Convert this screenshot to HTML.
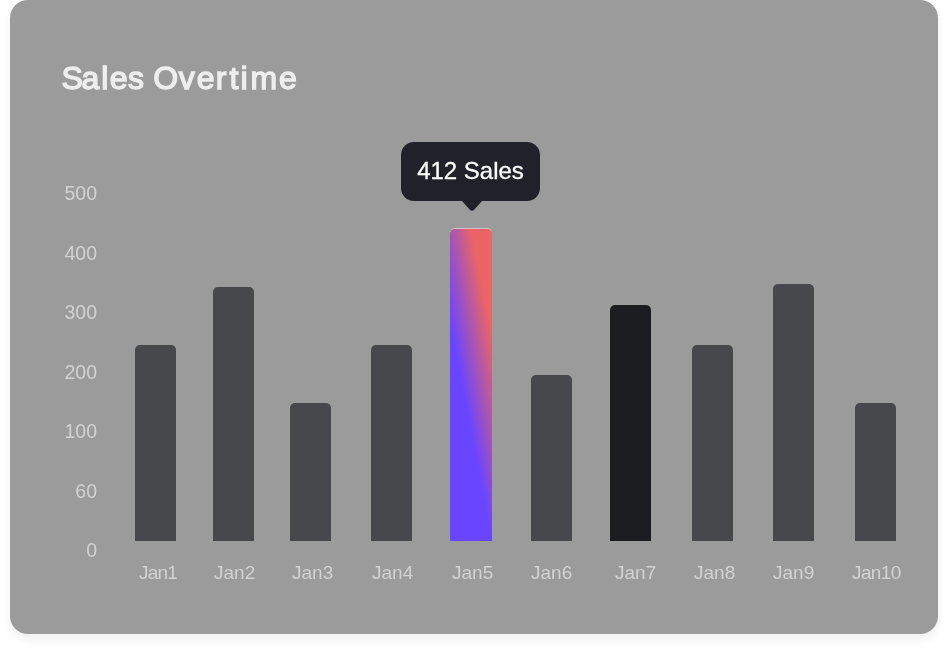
<!DOCTYPE html>
<html>
<head>
<meta charset="utf-8">
<style>
html,body{margin:0;padding:0;background:#ffffff;width:946px;height:651px;overflow:hidden;}
body{position:relative;font-family:"Liberation Sans",Arial,sans-serif;-webkit-font-smoothing:antialiased;}
.title,.yl,.xl,.tip{will-change:transform;}
.card{position:absolute;left:10px;top:0px;width:928px;height:634px;background:#9b9b9b;border-radius:18px;box-shadow:0 6px 10px rgba(0,0,0,0.06);}
.yl{position:absolute;right:849px;width:60px;text-align:right;font-size:19.5px;color:#d2d2d2;line-height:20px;}
.bar{position:absolute;bottom:110px;width:41px;background:#47484c;border-radius:5px 5px 0 0;}
.xl{position:absolute;top:562.5px;font-size:19px;color:#d2d2d2;line-height:20px;white-space:nowrap;}
.tip{position:absolute;left:401px;top:142px;width:139px;height:59px;background:#212229;border-radius:13px;color:#fff;font-size:24px;line-height:57px;text-align:center;-webkit-text-stroke:0.3px #fff;}
</style>
</head>
<body>
<div class="card"></div>
<svg class="title" style="position:absolute;left:0;top:0;overflow:visible" width="400" height="110"><text x="61.39 81.57 101.19 109.83 128.03 144.03 153.21 178.80 196.73 215.68 229.48 240.40 250.41 279.08" y="88.5" font-family="Liberation Sans, Arial, sans-serif" font-size="32" fill="#eeeeee" stroke="#eeeeee" stroke-width="1.4">Sales Overtime</text></svg>

<div class="yl" style="top:183px">500</div>
<div class="yl" style="top:243px">400</div>
<div class="yl" style="top:302px">300</div>
<div class="yl" style="top:362px">200</div>
<div class="yl" style="top:421px">100</div>
<div class="yl" style="top:481px">60</div>
<div class="yl" style="top:540px">0</div>

<div class="bar" style="left:135px;top:345px;"></div>
<div class="bar" style="left:213px;top:287px;"></div>
<div class="bar" style="left:290px;top:403px;"></div>
<div class="bar" style="left:371px;top:345px;"></div>
<div class="bar" style="left:450px;top:229px;width:42px;background:linear-gradient(79deg,#6a45ff 41%,#ec6464 80%);box-shadow:0 -1px 0 rgba(236,206,214,0.75);"></div>
<div class="bar" style="left:531px;top:375px;"></div>
<div class="bar" style="left:610px;top:305px;background:#1c1d21;"></div>
<div class="bar" style="left:692px;top:345px;"></div>
<div class="bar" style="left:773px;top:284px;"></div>
<div class="bar" style="left:855px;top:403px;"></div>

<div class="xl" style="left:139px;letter-spacing:-0.8px">Jan1</div>
<div class="xl" style="left:214px">Jan2</div>
<div class="xl" style="left:292px">Jan3</div>
<div class="xl" style="left:372px">Jan4</div>
<div class="xl" style="left:452px">Jan5</div>
<div class="xl" style="left:531px">Jan6</div>
<div class="xl" style="left:615px">Jan7</div>
<div class="xl" style="left:694px">Jan8</div>
<div class="xl" style="left:773px">Jan9</div>
<div class="xl" style="left:852px;letter-spacing:-0.6px">Jan10</div>

<div class="tip">412 Sales</div>
<svg style="position:absolute;left:0;top:0" width="946" height="651" viewBox="0 0 946 651"><path d="M461.5 199 L462 201 L469.8 209.7 Q472 212 474.2 209.7 L482 201 L482.5 199 Z" fill="#212229"/></svg>
</body>
</html>
